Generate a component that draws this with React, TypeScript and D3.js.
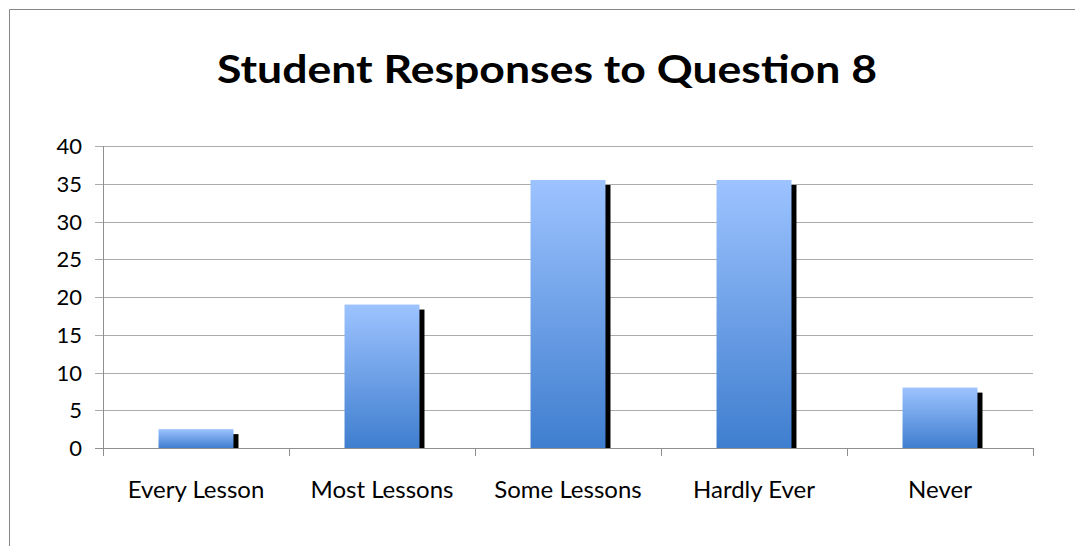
import React from "react";
import * as d3 from "d3";

const categories: string[] = ["Every Lesson", "Most Lessons", "Some Lessons", "Hardly Ever", "Never"];
const responses: number[] = [2.5, 19, 35.5, 35.5, 8];
const yTicks: number[] = [0, 5, 10, 15, 20, 25, 30, 35, 40];
const chartTitle = "Student Responses to Question 8";

const W = 1075;
const H = 546;
const plot = { left: 103, right: 1033, top: 146, bottom: 448 };
const FONT = "Lato, 'Open Sans', 'DejaVu Sans', sans-serif";

export default function App() {
  const x = d3
    .scaleBand<string>()
    .domain(categories)
    .range([plot.left, plot.right])
    .paddingInner(0.597)
    .paddingOuter(0.2985);
  const y = d3.scaleLinear().domain([0, 40]).range([plot.bottom, plot.top]);
  const step = x.step();
  const boundaries = d3.range(categories.length + 1).map((i) => plot.left + i * step);
  const shadow = 5;

  return (
    <svg
      width={W}
      height={H}
      style={{ position: "absolute", left: 0, top: 0, background: "#fff" }}
    >
      <defs>
        <linearGradient id="barFill" x1="0" y1="0" x2="0" y2="1">
          <stop offset="0%" stopColor="#9DC3FF" />
          <stop offset="100%" stopColor="#3F7ECF" />
        </linearGradient>
        <clipPath id="plotClip">
          <rect x={0} y={0} width={W} height={plot.bottom} />
        </clipPath>
      </defs>

      {/* chart area frame: only the top and left edges fall inside the view */}
      <path d={`M9.5,${H} V9.5 H${W}`} fill="none" stroke="#868686" strokeWidth={1} />

      <text
        x={547}
        y={83}
        textAnchor="middle"
        fontFamily={FONT}
        fontWeight="bold"
        fontSize={39}
        textLength={660}
        lengthAdjust="spacingAndGlyphs"
        fill="#000"
      >
        {chartTitle}
      </text>

      {/* gridlines with their tick stubs */}
      {yTicks.map((t) => (
        <line
          key={`g${t}`}
          x1={plot.left - 8}
          x2={plot.right}
          y1={Math.round(y(t)) + 0.5}
          y2={Math.round(y(t)) + 0.5}
          stroke={t === 0 ? "#8f8f8f" : "#ababab"}
          strokeWidth={1}
        />
      ))}

      {yTicks.map((t) => (
        <text
          key={`l${t}`}
          x={82}
          y={y(t) + 8}
          textAnchor="end"
          fontFamily={FONT}
          fontSize={22}
          fill="#000"
        >
          {t}
        </text>
      ))}

      {/* value axis */}
      <line x1={plot.left + 0.5} x2={plot.left + 0.5} y1={plot.top} y2={plot.bottom + 8} stroke="#8f8f8f" />

      {/* category ticks */}
      {boundaries.map((b, i) => (
        <line
          key={`c${i}`}
          x1={Math.round(b) + 0.5}
          x2={Math.round(b) + 0.5}
          y1={plot.bottom}
          y2={plot.bottom + 8}
          stroke="#8f8f8f"
        />
      ))}

      <g clipPath="url(#plotClip)">
        {categories.map((c, i) => (
          <rect
            key={`s${c}`}
            x={(x(c) as number) + shadow}
            y={y(responses[i]) + shadow}
            width={x.bandwidth()}
            height={plot.bottom - y(responses[i])}
            fill="#000"
          />
        ))}
      </g>
      {categories.map((c, i) => (
        <rect
          key={`b${c}`}
          x={x(c) as number}
          y={y(responses[i])}
          width={x.bandwidth()}
          height={plot.bottom - y(responses[i])}
          fill="url(#barFill)"
        />
      ))}

      {categories.map((c) => (
        <text
          key={`t${c}`}
          x={(x(c) as number) + x.bandwidth() / 2}
          y={498}
          textAnchor="middle"
          fontFamily={FONT}
          fontSize={24}
          fill="#000"
        >
          {c}
        </text>
      ))}
    </svg>
  );
}
